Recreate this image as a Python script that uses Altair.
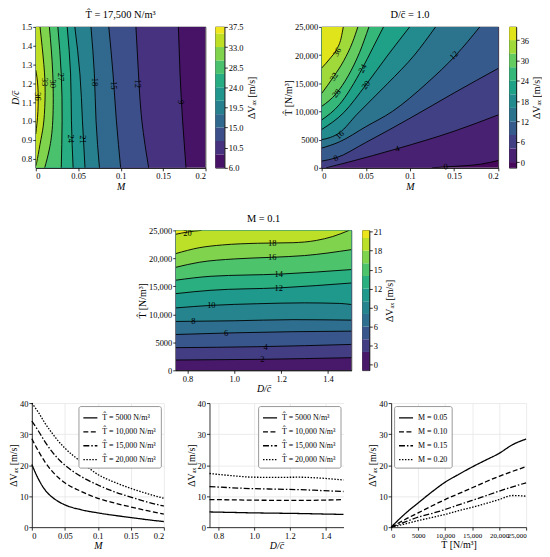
import altair as alt
import pandas as pd

SERIF = "Liberation Serif"
FS = 8.5

M_TICKS = [0, 0.05, 0.1, 0.15, 0.2]
D_TICKS = [0.8, 0.9, 1.0, 1.1, 1.2, 1.3, 1.4, 1.5]
D_TICKS_B = [0.8, 1.0, 1.2, 1.4]
T_TICKS = [0, 5000, 10000, 15000, 20000, 25000]
T_LABEL = "datum.value < 10000 ? format(datum.value, 'd') : format(datum.value, ',d')"
CB_TITLE = "ΔVₐₓ [m/s]"
T_TITLE = "T̂ [N/m³]"

# ---------------- Panel A : T = 17,500, contours over (M, D/c) ----------------
A_LEVELS = [9, 12, 15, 18, 21, 24, 27, 30, 33, 36]
A_D = [
    [1.5, 1.25, 1.0, 0.75],
    [1.5, 1.25, 1.0, 0.75],
    [1.5, 1.25, 1.0, 0.75],
    [1.5, 1.25, 1.0, 0.75],
    [1.5, 1.25, 1.0, 0.75],
    [1.5, 1.25, 1.0, 0.75],
    [1.5, 1.25, 1.0, 0.75],
    [1.5, 1.25, 1.0, 0.85, 0.75],
    [1.5, 1.3, 1.15, 1.0, 0.9, 0.8, 0.76],
    [1.27, 1.18, 1.05, 0.93],
]
A_M = [
    [0.168, 0.170, 0.173, 0.177],
    [0.118, 0.121, 0.125, 0.133],
    [0.086, 0.091, 0.095, 0.100],
    [0.065, 0.069, 0.071, 0.075],
    [0.046, 0.052, 0.055, 0.058],
    [0.037, 0.041, 0.042, 0.044],
    [0.026, 0.030, 0.031, 0.030],
    [0.016, 0.020, 0.020, 0.016, 0.0105],
    [0.005, 0.0095, 0.011, 0.0095, 0.006, 0.002, 0.0],
    [0.0, 0.0025, 0.0025, 0.0],
]
A_BASE_C = 7.5
A_FILL_C = [10.5, 13.5, 16.5, 19.5, 22.5, 25.5, 28.5, 31.5, 34.5, 36.75]
A_DOMAIN = [6.0, 37.5]
A_CB_EDGES = [6.0, 9, 12, 15, 18, 21, 24, 27, 30, 33, 36, 37.5]
A_CB_MID = [7.5, 10.5, 13.5, 16.5, 19.5, 22.5, 25.5, 28.5, 31.5, 34.5, 36.75]
A_CB_TICKS = [6.0, 10.5, 15.0, 19.5, 24.0, 28.5, 33.0, 37.5]
A_LAB_TEXT = ["36", "33", "30", "27", "24", "21", "18", "15", "12", "9"]
A_LAB_M = [0.0028, 0.0109, 0.0203, 0.030, 0.042, 0.056, 0.0695, 0.0917, 0.121, 0.1707]
A_LAB_D = [1.13, 1.207, 1.198, 1.233, 0.905, 0.901, 1.207, 1.189, 1.198, 1.10]

# ---------------- Panel B : D/c = 1.0, contours over (M, T) ----------------
B_LEVELS = [0, 4, 8, 12, 16, 20, 24, 28, 32, 36]
B_M = [
    [0.125, 0.14, 0.16, 0.18, 0.2],
    [0.005, 0.03, 0.0856, 0.15, 0.2],
    [0.0, 0.016, 0.05, 0.1, 0.15, 0.2],
    [0.0, 0.02, 0.05, 0.08, 0.119, 0.152, 0.179],
    [0.0, 0.01, 0.02, 0.04, 0.075, 0.105, 0.129],
    [0.0, 0.025, 0.05, 0.075, 0.0996],
    [0.0, 0.02, 0.046, 0.058, 0.070],
    [0.0, 0.0166, 0.03, 0.043, 0.0535],
    [0.0, 0.0137, 0.025, 0.035, 0.041],
    [0.0, 0.01, 0.017, 0.022, 0.0245],
]
B_T = [
    [0, 180, 350, 650, 1300],
    [0, 1000, 3400, 6500, 9400],
    [1200, 1760, 4500, 8800, 13300, 17650],
    [3500, 4600, 7300, 10000, 15000, 20000, 25000],
    [5000, 5400, 6200, 9500, 15000, 20000, 25000],
    [6800, 9800, 14700, 20000, 25000],
    [8500, 11200, 17650, 21300, 25000],
    [10900, 13200, 16300, 20500, 25000],
    [13200, 16200, 19000, 22300, 25000],
    [17700, 19500, 21000, 23000, 25000],
]
B_BASE_C = -1.0
B_FILL_C = [2, 6, 10, 14, 18, 22, 26, 30, 34, 38]
B_DOMAIN = [-1.7, 39.9]
B_CB_EDGES = [-1.7, 0, 4, 8, 12, 16, 20, 24, 28, 32, 36, 39.9]
B_CB_MID = [-1.0, 2, 6, 10, 14, 18, 22, 26, 30, 34, 38]
B_CB_TICKS = [0, 6, 12, 18, 24, 30, 36]
B_LAB_TEXT = ["36", "32", "28", "24", "20", "16", "12", "8", "4", "0"]
B_LAB_M = [0.0173, 0.0137, 0.0166, 0.0461, 0.0498, 0.0203, 0.1494, 0.0159, 0.0856, 0.1402]
B_LAB_T = [20588, 16176, 13235, 17647, 14706, 5882, 20000, 1765, 3412, 250]
B_LAB_ANG = [298, 302, 311, 297, 307, 318, 316, 337, 344, 355]

# ---------------- Panel C : M = 0.1, contours over (D/c, T) ----------------
C_LEVELS = [2, 4, 6, 8, 10, 12, 14, 16, 18, 20]
C_D = [
    [0.75, 1.1, 1.5],
    [0.75, 1.1, 1.5],
    [0.75, 1.0, 1.25, 1.5],
    [0.75, 1.0, 1.25, 1.5],
    [0.75, 0.9, 1.1, 1.3, 1.45, 1.5],
    [0.75, 0.9, 1.2, 1.5],
    [0.75, 0.9, 1.2, 1.5],
    [0.75, 0.85, 1.0, 1.16, 1.3, 1.5],
    [0.75, 0.85, 0.95, 1.1, 1.25, 1.35, 1.42, 1.49],
    [0.75, 0.80, 0.86],
]
C_T = [
    [1840, 1960, 2260],
    [4050, 4220, 4630],
    [6400, 6700, 6900, 7000],
    [8730, 8850, 9050, 8970],
    [11150, 11600, 11900, 12050, 11950, 11750],
    [13700, 14300, 14750, 15600],
    [16100, 16800, 17200, 18000],
    [18400, 19300, 19900, 20190, 20500, 21560],
    [20850, 21900, 22400, 22700, 22800, 23200, 23900, 25000],
    [24300, 24700, 25000],
]
C_BASE_C = 0.5
C_FILL_C = [3, 5, 7, 9, 11, 13, 15, 17, 19, 20.6]
C_DOMAIN = [-0.9, 21.2]
C_CB_EDGES = [-0.9, 2, 4, 6, 8, 10, 12, 14, 16, 18, 20, 21.2]
C_CB_MID = [0.5, 3, 5, 7, 9, 11, 13, 15, 17, 19, 20.6]
C_CB_TICKS = [0, 3, 6, 9, 12, 15, 18, 21]
C_LAB_TEXT = ["20", "18", "16", "14", "12", "10", "8", "6", "4", "2"]
C_LAB_D = [0.80, 1.162, 1.162, 1.190, 1.190, 0.902, 0.825, 0.965, 1.134, 1.120]
C_LAB_T = [24500, 22743, 20190, 17221, 14727, 11580, 8789, 6710, 4216, 1960]

# ---------------- Bottom line charts ----------------
T_SERIES = ["T̂ = 5000 N/m³", "T̂ = 10,000 N/m³", "T̂ = 15,000 N/m³", "T̂ = 20,000 N/m³"]
M_SERIES = ["M = 0.05", "M = 0.10", "M = 0.15", "M = 0.20"]

L_M = [0, 0.01, 0.02, 0.03, 0.04, 0.05, 0.075, 0.1, 0.125, 0.15, 0.175, 0.2]
L_T5000 = [20.2, 15.5, 12.0, 9.8, 8.3, 7.2, 5.6, 4.6, 3.8, 3.1, 2.4, 1.8]
L_T10000 = [28.5, 24.5, 21.0, 18.2, 16.0, 14.3, 11.5, 9.3, 7.8, 6.5, 5.3, 4.2]
L_T15000 = [34.2, 31.0, 27.5, 24.5, 22.0, 20.0, 16.3, 13.6, 11.4, 9.7, 8.1, 6.8]
L_T20000 = [40.0, 37.0, 33.5, 30.5, 27.8, 25.5, 21.0, 17.0, 14.5, 12.5, 10.8, 9.3]

MID_D = [0.75, 0.875, 1.0, 1.125, 1.25, 1.375, 1.5]
MID_T5000 = [4.9, 4.75, 4.6, 4.5, 4.4, 4.25, 4.1]
MID_T10000 = [8.9, 8.8, 8.7, 8.65, 8.6, 8.7, 8.9]
MID_T15000 = [13.1, 12.7, 12.4, 12.25, 12.1, 11.8, 11.5]
MID_T20000 = [17.3, 16.6, 16.1, 16.05, 16.1, 15.8, 15.2]

R_T = [0, 2500, 5000, 7500, 10000, 12500, 15000, 17500, 20000, 22500, 25000]
R_M005 = [0, 4.2, 7.8, 11.3, 14.5, 17.0, 19.4, 21.6, 23.8, 26.6, 28.4]
R_M010 = [0, 2.4, 4.6, 6.8, 8.9, 10.8, 12.7, 14.6, 16.4, 18.0, 19.5]
R_M015 = [0, 1.6, 3.2, 4.4, 5.7, 7.2, 8.6, 10.1, 11.6, 13.0, 14.3]
R_M020 = [0, 1.0, 2.1, 3.1, 4.1, 5.3, 6.4, 7.6, 8.9, 10.2, 10.0]

DASHES = [[1, 0], [5, 2.5], [6, 2, 1.5, 2], [1.5, 1.5]]
FRAME = alt.ViewBackground(stroke="black", strokeWidth=0.8)


def title(t):
    return alt.TitleParams(t, font=SERIF, fontSize=10.5, fontWeight="normal", offset=2)


def colorbar(edges, mids, domain, ticks, fmt, width, height):
    df = pd.DataFrame({"lo": edges[:-1], "hi": edges[1:], "mid": mids})
    cs = alt.Scale(scheme="viridis", domain=domain)
    return alt.Chart(df).mark_rect().encode(
        y=alt.Y("lo:Q", scale=alt.Scale(domain=domain, nice=False, zero=False),
                axis=alt.Axis(orient="right", values=ticks, format=fmt, title=CB_TITLE,
                              titleAngle=270, titleBaseline="top", titlePadding=3, grid=False)),
        y2="hi:Q",
        color=alt.Color("mid:Q", scale=cs, legend=None),
    ).properties(width=width, height=height, view=FRAME)


def panel_a(width, height):
    xs = alt.Scale(domain=[0, 0.2], nice=False, zero=False)
    ys = alt.Scale(domain=[0.75, 1.5], nice=False, zero=False)
    cs = alt.Scale(scheme="viridis", domain=A_DOMAIN)
    X = alt.X("M:Q", scale=xs, stack=None,
              axis=alt.Axis(values=M_TICKS, format="~g", title="M", titleFontStyle="italic", grid=False))
    Y = alt.Y("D:Q", scale=ys,
              axis=alt.Axis(values=D_TICKS, format=".1f", title="D/c̄", titleFontStyle="italic", grid=False))
    C = alt.Color("c:Q", scale=cs, legend=None)
    layers = []
    base = pd.DataFrame({"D": [0.75, 1.5], "M": [0.2, 0.2], "x0": [0, 0], "c": [A_BASE_C] * 2})
    layers.append(alt.Chart(base).mark_area(orient="horizontal", clip=True, strokeWidth=0)
                  .encode(x=X, x2="x0:Q", y=Y, color=C))
    rows = []
    for i, lev in enumerate(A_LEVELS):
        df = pd.DataFrame({"D": A_D[i], "M": A_M[i], "x0": 0, "c": A_FILL_C[i]})
        layers.append(alt.Chart(df).mark_area(orient="horizontal", interpolate="natural",
                                             clip=True, strokeWidth=0)
                      .encode(x=X, x2="x0:Q", y=Y, color=C))
        for k, (d, m) in enumerate(zip(A_D[i], A_M[i])):
            rows.append({"lev": lev, "k": k, "D": d, "M": m})
    lines = pd.DataFrame(rows)
    layers.append(alt.Chart(lines).mark_line(interpolate="natural", clip=True, color="black",
                                             strokeWidth=0.9)
                  .encode(x=X, y=Y, detail="lev:N", order="k:Q"))
    lab = pd.DataFrame({"M": A_LAB_M, "D": A_LAB_D, "t": A_LAB_TEXT})
    layers.append(alt.Chart(lab).mark_text(font=SERIF, fontSize=8.5, color="black", angle=90)
                  .encode(x=X, y=Y, text="t:N"))
    return alt.layer(*layers).properties(width=width, height=height,
                                         title=title("T̂ = 17,500 N/m³"), view=FRAME)


def panel_vertical(xdomain, xaxis, yaxis, levels, xs_list, ys_list, base_c, fill_c,
                   domain, lab_x, lab_y, lab_t, lab_a, ttl, width, height):
    xs = alt.Scale(domain=xdomain, nice=False, zero=False)
    ys = alt.Scale(domain=[0, 25000], nice=False, zero=False)
    cs = alt.Scale(scheme="viridis", domain=domain)
    X = alt.X("x:Q", scale=xs, axis=xaxis)
    Y = alt.Y("y:Q", scale=ys, axis=yaxis, stack=None)
    C = alt.Color("c:Q", scale=cs, legend=None)
    layers = []
    base = pd.DataFrame({"x": xdomain, "y": [0, 0], "top": [25000, 25000], "c": [base_c] * 2})
    layers.append(alt.Chart(base).mark_area(clip=True, strokeWidth=0)
                  .encode(x=X, y=Y, y2="top:Q", color=C))
    rows = []
    for i, lev in enumerate(levels):
        xv = list(xs_list[i])
        yv = list(ys_list[i])
        fx, fy = list(xv), list(yv)
        if fy[0] == 0 and fx[0] > xdomain[0]:
            fx = [xdomain[0]] + fx
            fy = [0] + fy
        df = pd.DataFrame({"x": fx, "y": fy, "top": 25000, "c": fill_c[i]})
        layers.append(alt.Chart(df).mark_area(interpolate="monotone", clip=True, strokeWidth=0)
                      .encode(x=X, y=Y, y2="top:Q", color=C))
        for k, (a, b) in enumerate(zip(xv, yv)):
            rows.append({"lev": lev, "k": k, "x": a, "y": b})
    lines = pd.DataFrame(rows)
    layers.append(alt.Chart(lines).mark_line(interpolate="monotone", clip=True, color="black",
                                             strokeWidth=0.9)
                  .encode(x=X, y=Y, detail="lev:N", order="k:Q"))
    lab = pd.DataFrame({"x": lab_x, "y": lab_y, "t": lab_t, "a": lab_a})
    layers.append(alt.Chart(lab).mark_text(font=SERIF, fontSize=8.5, color="black")
                  .encode(x=X, y=Y, text="t:N", angle=alt.Angle("a:Q", scale=None)))
    return alt.layer(*layers).properties(width=width, height=height, title=title(ttl), view=FRAME)


def line_panel(xvals, series_vals, names, xdomain, xaxis, legend_orient, width, height):
    rows = []
    for name, vals in zip(names, series_vals):
        for xv, v in zip(xvals, vals):
            rows.append({"x": xv, "v": v, "s": name})
    df = pd.DataFrame(rows)
    return alt.Chart(df).mark_line(color="black", strokeWidth=1.3, interpolate="monotone").encode(
        x=alt.X("x:Q", scale=alt.Scale(domain=xdomain, nice=False, zero=False), axis=xaxis),
        y=alt.Y("v:Q", scale=alt.Scale(domain=[0, 40], nice=False),
                axis=alt.Axis(values=[0, 10, 20, 30, 40], title=CB_TITLE, grid=True)),
        strokeDash=alt.StrokeDash("s:N", scale=alt.Scale(domain=names, range=DASHES),
                                  legend=alt.Legend(title=None, orient=legend_orient, offset=3,
                                                    fillColor="white", strokeColor="#999999",
                                                    padding=4, cornerRadius=2, labelFont=SERIF,
                                                    labelFontSize=8, symbolType="stroke",
                                                    symbolSize=200, symbolStrokeWidth=1.3,
                                                    symbolStrokeColor="black", rowPadding=2,
                                                    labelLimit=200)),
        detail="s:N",
    ).properties(width=width, height=height)


def spacer(w):
    return alt.Chart(pd.DataFrame({"v": [0]})).mark_point(opacity=0).encode(
        x=alt.X("v:Q", axis=None), y=alt.Y("v:Q", axis=None)).properties(width=w, height=10)


def row(*charts):
    return alt.hconcat(*charts, spacing=1, bounds="flush").resolve_scale(
        color="independent", strokeDash="independent").resolve_legend(strokeDash="independent")


m_axis = alt.Axis(values=M_TICKS, format="~g", title="M", titleFontStyle="italic", grid=False)
t_axis = alt.Axis(values=T_TICKS, labelExpr=T_LABEL, title=T_TITLE, grid=False)
d_axis = alt.Axis(values=D_TICKS_B, format=".1f", title="D/c̄", titleFontStyle="italic", grid=False)

A = panel_a(171, 142)
cbA = colorbar(A_CB_EDGES, A_CB_MID, A_DOMAIN, A_CB_TICKS, ".1f", 9, 142)
B = panel_vertical([0, 0.2], m_axis, t_axis, B_LEVELS, B_M, B_T, B_BASE_C, B_FILL_C,
                   B_DOMAIN, B_LAB_M, B_LAB_T, B_LAB_TEXT, B_LAB_ANG, "D/c̄ = 1.0", 178, 142)
cbB = colorbar(B_CB_EDGES, B_CB_MID, B_DOMAIN, B_CB_TICKS, "d", 7, 142)
Cp = panel_vertical([0.75, 1.5], d_axis, t_axis, C_LEVELS, C_D, C_T, C_BASE_C, C_FILL_C,
                    C_DOMAIN, C_LAB_D, C_LAB_T, C_LAB_TEXT, [0] * 10, "M = 0.1", 177, 141)
cbC = colorbar(C_CB_EDGES, C_CB_MID, C_DOMAIN, C_CB_TICKS, "d", 7, 141)

L = line_panel(L_M, [L_T5000, L_T10000, L_T15000, L_T20000], T_SERIES, [0, 0.2],
               alt.Axis(values=M_TICKS, format="~g", title="M", titleFontStyle="italic", grid=True),
               "top-right", 133, 125)
Mi = line_panel(MID_D, [MID_T5000, MID_T10000, MID_T15000, MID_T20000], T_SERIES, [0.75, 1.5],
                alt.Axis(values=D_TICKS_B, format=".1f", title="D/c̄", titleFontStyle="italic", grid=True),
                "top-right", 135, 125)
R = line_panel(R_T, [R_M005, R_M010, R_M015, R_M020], M_SERIES, [0, 25000],
               alt.Axis(values=T_TICKS, labelExpr=T_LABEL, title=T_TITLE, grid=True,
                        labelFontSize=7),
               "top-left", 136, 125)

row1 = row(spacer(25), A, spacer(8), cbA, spacer(96), B, spacer(9), cbB)
row2 = row(spacer(166), Cp, spacer(9), cbC)
row3 = row(spacer(21), L, spacer(44), Mi, spacer(46), R)

upper = alt.vconcat(row1, row2, spacing=22).resolve_scale(
    color="independent", strokeDash="independent")
chart = alt.vconcat(upper, row3, spacing=5).resolve_scale(
    color="independent", strokeDash="independent").resolve_legend(strokeDash="independent")

chart = chart.properties(padding=0).configure_axis(
    labelFont=SERIF, labelFontSize=FS, titleFont=SERIF, titleFontSize=10, titleFontWeight="normal",
    tickSize=3, labelPadding=1, titlePadding=1, domainColor="black", tickColor="black",
    labelColor="black", titleColor="black", gridColor="#e6e6e6", gridWidth=0.8, domainWidth=0.8,
    tickWidth=0.8, labelOverlap=False,
).configure_view(stroke=None).configure_title(font=SERIF, fontSize=10.5, fontWeight="normal")

chart.save("out.html", embed_options={"renderer": "svg", "actions": False})
